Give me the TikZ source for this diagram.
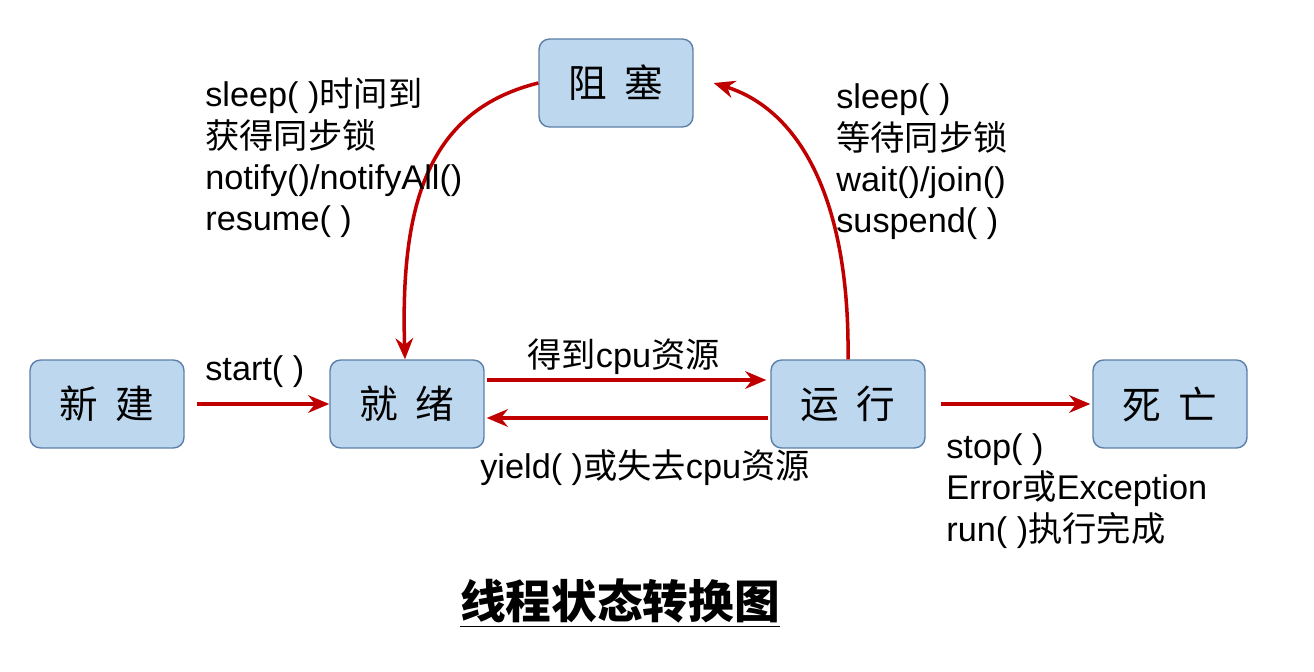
\documentclass[tikz,border=0pt]{standalone}
\usepackage{fontspec}
\setmainfont{Liberation Sans}
\newfontfamily\cjk{Noto Sans CJK SC}
\usetikzlibrary{positioning,arrows.meta}
\definecolor{boxfill}{HTML}{BDD7EE}
\definecolor{boxline}{HTML}{5B7FA8}
\definecolor{arrred}{HTML}{C00000}
\newcommand{\zh}[1]{{\cjk #1}}
\begin{document}
\begin{tikzpicture}[x=0.02cm,y=-0.02cm,
    state/.style={draw=boxline,fill=boxfill,rounded corners=6pt,line width=0.8pt,
      minimum width=3.08cm,minimum height=1.76cm,font=\cjk\fontsize{22}{26}\selectfont},
    trans/.style={draw=arrred,line width=2pt,-{Stealth[length=12pt,width=10pt]}},
    lbl/.style={anchor=west,align=left,inner sep=0pt,font=\fontsize{19.5}{23.5}\selectfont}]
    \useasboundingbox (0,0) rectangle (1314,672);

    % states
    \node[state] (zs) at (616,83) {阻\ \ 塞};
    \node[state] (xj) at (107,404) {新\ \ 建};
    \node[state] (jx) at (407,404) {就\ \ 绪};
    \node[state] (yx) at (848,404) {运\ \ 行};
    \node[state] (sw) at (1170,404) {死\ \ 亡};

    % transitions
    \draw[trans,shorten <=0.24cm] (xj.east) -- (jx.west);
    \draw[trans,shorten <=0.04cm,shorten >=0.08cm] ([yshift=0.48cm]jx.east) -- ([yshift=0.48cm]yx.west);
    \draw[trans,shorten <=0.04cm,shorten >=0.04cm] ([yshift=-0.28cm]yx.west) -- ([yshift=-0.28cm]jx.east);
    \draw[trans,shorten <=0.3cm,shorten >=0.04cm] (yx.east) -- (sw.west);
    \draw[trans] (zs.west) .. controls (430,110) and (400,200) .. ([xshift=-0.04cm]jx.north);
    \draw[trans] (yx.north) .. controls (850,200) and (800,110) .. ([xshift=0.4cm]zs.east);

    % labels
    \node[lbl] (lzs) at (205,158) {sleep( )\zh{时间到}\\\zh{获得同步锁}\\notify()/notifyAll()\\resume( )};
    \node[lbl] (lzr) at (836,162) {sleep( )\\\zh{等待同步锁}\\wait()/join()\\suspend( )};
    \node[lbl] (lst) at (205,372) {start( )};
    \node[lbl] (lcpu) at (527,357) {\zh{得到}cpu\zh{资源}};
    \node[lbl] (lyd) at (480,468) {yield( )\zh{或失去}cpu\zh{资源}};
    \node[lbl] (lsw) at (946,491) {stop( )\\Error\zh{或}Exception\\run( )\zh{执行完成}};

    % title
    \node[font=\cjk\bfseries\fontsize{26}{30}\selectfont] (title) at (620,603) {\underline{线程状态转换图}};
\end{tikzpicture}
\end{document}
